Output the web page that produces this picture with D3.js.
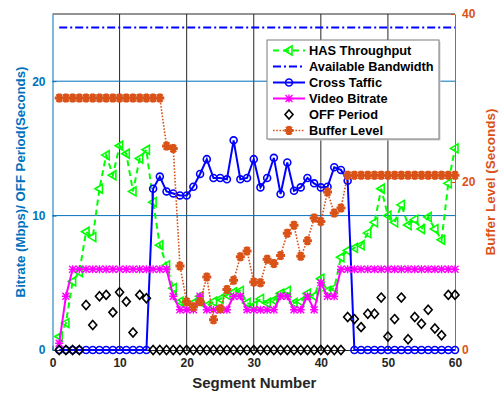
<!DOCTYPE html>
<html>
<head>
<meta charset="utf-8">
<script src="https://cdn.jsdelivr.net/npm/d3@7/dist/d3.min.js"></script>
<style>
  html, body { margin: 0; padding: 0; background: #fff; }
  svg { display: block; font-family: "Liberation Sans", Arial, sans-serif; }
</style>
</head>
<body>
<svg id="chart" width="504" height="394"></svg>
<script>
// Segment indices 1..60
const segments = d3.range(1, 61);

// HAS throughput (Mbps)
const hasThroughput = [
  1.0, 2.0, 5.1, 5.8, 8.8, 8.4, 12.0, 14.5, 13.0, 15.2,
  14.6, 11.8, 14.25, 14.9, 11.0, 7.8, 6.3, 4.6, 3.6, 3.3,
  3.5, 4.0, 3.3, 3.6, 3.8, 4.1, 4.3, 4.4, 3.5, 3.3,
  3.8, 3.5, 3.7, 4.2, 4.4, 3.5, 3.6, 4.2, 4.0, 5.3,
  4.4, 4.6, 6.9, 7.4, 7.6, 7.8, 8.7, 9.5, 12.0, 10.0,
  9.5, 10.8, 9.3, 9.7, 9.0, 9.9, 9.0, 8.2, 12.4, 15.0
];

// Available bandwidth (Mbps)
const availableBandwidth = segments.map(() => 24);

// Cross traffic (Mbps)
const crossTraffic = [
  0, 0, 0, 0, 0, 0, 0, 0, 0, 0,
  0, 0, 0, 0, 12.0, 12.9, 11.8, 11.65, 11.5, 11.5,
  12.15, 13.1, 14.2, 12.8, 12.8, 12.7, 15.6, 12.7, 12.8, 14.2,
  12.1, 12.8, 14.3, 11.6, 13.95, 11.85, 12.1, 12.8, 12.4, 12.1,
  12.15, 13.6, 13.4, 12.6, 0, 0, 0, 0, 0, 0,
  0, 0, 0, 0, 0, 0, 0, 0, 0, 0
];

// Video bitrate (Mbps)
const videoBitrate = [
  0.5, 4, 6, 6, 6, 6, 6, 6, 6, 6,
  6, 6, 6, 6, 6, 6, 6, 4, 3, 3,
  3, 4, 3, 3, 3, 3, 4, 4, 3, 3,
  3, 3, 3, 4, 4, 3, 3, 4, 3, 5,
  4, 4, 6, 6, 6, 6, 6, 6, 6, 6,
  6, 6, 6, 6, 6, 6, 6, 6, 6, 6
];

// OFF period (seconds)
const offPeriod = [
  0, 0, 0, 0, 3.35, 1.86, 4.0, 4.1, 2.8, 4.3,
  3.6, 1.3, 4.1, 3.85, 0, 0, 0, 0, 0, 0,
  0, 0, 0, 0, 0, 0, 0, 0, 0, 0,
  0, 0, 0, 0, 0, 0, 0, 0, 0, 0,
  0, 0, 0, 2.45, 2.3, 1.7, 2.7, 2.7, 3.9, 1.0,
  2.3, 3.9, 0.8, 2.45, 1.95, 3.0, 1.6, 1.1, 4.1, 4.1
];

// Buffer level (seconds, right axis)
const bufferLevel = [
  30, 30, 30, 30, 30, 30, 30, 30, 30, 30,
  30, 30, 30, 30, 30, 30, 24.3, 24.0, 10.0, 5.75,
  5.15, 5.75, 8.7, 3.6, 4.9, 7.2, 8.3, 11.1, 11.8, 8.1,
  8.0, 10.8, 10.3, 11.25, 13.9, 14.85, 11.15, 13.0, 15.7, 15.3,
  18.8, 16.3, 16.9, 20.8, 20.8, 20.8, 20.8, 20.8, 20.8, 20.8,
  20.8, 20.8, 20.8, 20.8, 20.8, 20.8, 20.8, 20.8, 20.8, 20.8
];

const xTicks = [0, 10, 20, 30, 40, 50, 60];
const leftTicks = [0, 10, 20];
const rightTicks = [0, 20, 40];

const legendLabels = ["HAS Throughput", "Available Bandwidth", "Cross Taffic",
                      "Video Bitrate", "OFF Period", "Buffer Level"];

// ---- layout ----
const plotLeft = 52.5, plotRight = 455, plotTop = 14, plotBottom = 350;
const BLUE_AX = "#0072BD", ORANGE = "#D95319", DARK = "#262626";
const GREEN = "#00FF00", BLUE = "#0000FF", MAGENTA = "#FF00FF";
const FONT = "Liberation Sans, Arial, sans-serif";

const svg = d3.select("#chart");
const x = d3.scaleLinear().domain([0, 60]).range([plotLeft, plotRight]);
const yL = d3.scaleLinear().domain([0, 25]).range([plotBottom, plotTop]);
const yR = d3.scaleLinear().domain([0, 40]).range([plotBottom, plotTop]);

// grid
const grid = svg.append("g");
grid.selectAll("line.v").data(xTicks.filter(t => t > 0 && t < 60)).join("line")
  .attr("x1", d => x(d)).attr("x2", d => x(d)).attr("y1", plotTop).attr("y2", plotBottom)
  .attr("stroke", DARK).attr("stroke-width", 1);
grid.selectAll("line.h").data(leftTicks.filter(t => t > 0)).join("line")
  .attr("x1", plotLeft).attr("x2", plotRight).attr("y1", d => yL(d)).attr("y2", d => yL(d))
  .attr("stroke", BLUE_AX).attr("stroke-width", 1);

// frame top
svg.append("line").attr("x1", plotLeft).attr("x2", plotRight).attr("y1", plotTop).attr("y2", plotTop)
  .attr("stroke", DARK).attr("stroke-width", 1);

// axes
const styleText = (sel, color) => sel.selectAll("text").attr("fill", color).attr("font-size", 12)
  .attr("font-weight", "bold").attr("font-family", FONT);

const gx = svg.append("g").attr("transform", `translate(0,${plotBottom})`)
  .call(d3.axisBottom(x).tickValues(xTicks).tickSizeInner(-4).tickSizeOuter(0).tickPadding(8));
gx.select(".domain").attr("stroke", DARK);
gx.selectAll(".tick line").attr("stroke", DARK);
styleText(gx, DARK);

const gl = svg.append("g").attr("transform", `translate(${plotLeft},0)`)
  .call(d3.axisLeft(yL).tickValues(leftTicks).tickSizeInner(-4).tickSizeOuter(0).tickPadding(7));
gl.select(".domain").attr("stroke", BLUE_AX);
gl.selectAll(".tick line").attr("stroke", BLUE_AX);
styleText(gl, BLUE_AX);

const gr = svg.append("g").attr("transform", `translate(${plotRight},0)`)
  .call(d3.axisRight(yR).tickValues(rightTicks).tickSizeInner(-4).tickSizeOuter(0).tickPadding(7));
gr.select(".domain").attr("stroke", ORANGE);
gr.selectAll(".tick line").attr("stroke", ORANGE);
styleText(gr, ORANGE);

// axis titles
svg.append("text").attr("x", (plotLeft + plotRight) / 2 + 0.5).attr("y", 387.5)
  .attr("text-anchor", "middle").attr("font-size", 15).attr("font-weight", "bold")
  .attr("fill", DARK).text("Segment Number");
svg.append("text").attr("transform", `translate(24.5,${(plotTop + plotBottom) / 2}) rotate(-90)`)
  .attr("text-anchor", "middle").attr("font-size", 13.2).attr("font-weight", "bold")
  .attr("fill", BLUE_AX).text("Bitrate (Mbps)/ OFF Period(Seconds)");
svg.append("text").attr("transform", `translate(494.5,${(plotTop + plotBottom) / 2}) rotate(-90)`)
  .attr("text-anchor", "middle").attr("font-size", 13.5).attr("font-weight", "bold")
  .attr("fill", ORANGE).text("Buffer Level (Seconds)");

// ---- marker shapes ----
const markers = {
  triLeft: "M-4.5,0L3,-4.5L3,4.5Z",
  circle: d3.symbol().type(d3.symbolCircle).size(38)(),
  asterisk: "M-3.5,-3.5L3.5,3.5M-3.5,3.5L3.5,-3.5M0,-4L0,4M-4,0L4,0",
  diamond: "M0,-4.5L4,0L0,4.5L-4,0Z",
  buffer: "M-4.5,0L4.5,0M-2.3,-4L2.3,4M-2.3,4L2.3,-4M0,-4.5L0,4.5"
};

const series = [
  { name: legendLabels[0], values: hasThroughput, scale: yL, color: GREEN, width: 2, dash: "6,4", marker: "triLeft", mstroke: 1.6 },
  { name: legendLabels[1], values: availableBandwidth, scale: yL, color: BLUE, width: 2, dash: "8,3,2,3", marker: null },
  { name: legendLabels[2], values: crossTraffic, scale: yL, color: BLUE, width: 2, dash: null, marker: "circle", mstroke: 1.6 },
  { name: legendLabels[3], values: videoBitrate, scale: yL, color: MAGENTA, width: 2, dash: null, marker: "asterisk", mstroke: 1.4 },
  { name: legendLabels[4], values: offPeriod, scale: yL, color: "#000", width: 0, dash: null, marker: "diamond", mstroke: 1.6 },
  { name: legendLabels[5], values: bufferLevel, scale: yR, color: ORANGE, width: 1.6, dash: "1.6,1.6", marker: "buffer", mstroke: 3 }
];

const plot = svg.append("g");
series.forEach(s => {
  const g = plot.append("g");
  const pts = segments.map((seg, i) => [x(seg), s.scale(s.values[i])]);
  if (s.width > 0) {
    g.append("path").attr("d", d3.line()(pts)).attr("fill", "none")
      .attr("stroke", s.color).attr("stroke-width", s.width)
      .attr("stroke-dasharray", s.dash);
  }
  if (s.marker) {
    g.selectAll("path.m").data(pts).join("path").attr("class", "m")
      .attr("transform", d => `translate(${d[0]},${d[1]})`)
      .attr("d", markers[s.marker]).attr("fill", "none")
      .attr("stroke", s.color).attr("stroke-width", s.mstroke);
  }
});

// ---- legend ----
const lg = svg.append("g").attr("transform", "translate(267,40)");
lg.append("rect").attr("x", 1.5).attr("y", 1.5).attr("width", 172).attr("height", 99).attr("fill", "#d0d0d0");
lg.append("rect").attr("width", 172).attr("height", 99).attr("fill", "#fff").attr("stroke", "#7a7a7a").attr("stroke-width", 1);
series.forEach((s, i) => {
  const ry = 10.5 + i * 16;
  const row = lg.append("g").attr("transform", `translate(0,${ry})`);
  if (s.width > 0) {
    row.append("line").attr("x1", 6).attr("x2", 38).attr("y1", 0).attr("y2", 0)
      .attr("stroke", s.color).attr("stroke-width", s.width).attr("stroke-dasharray", s.dash);
  }
  if (s.marker) {
    row.append("path").attr("transform", "translate(22,0)").attr("d", markers[s.marker])
      .attr("fill", "none").attr("stroke", s.color).attr("stroke-width", s.mstroke);
  }
  row.append("text").attr("x", 42).attr("y", 4.5).attr("font-size", 12.8).attr("font-weight", "bold")
    .attr("fill", "#000").text(s.name);
});
</script>
</body>
</html>
